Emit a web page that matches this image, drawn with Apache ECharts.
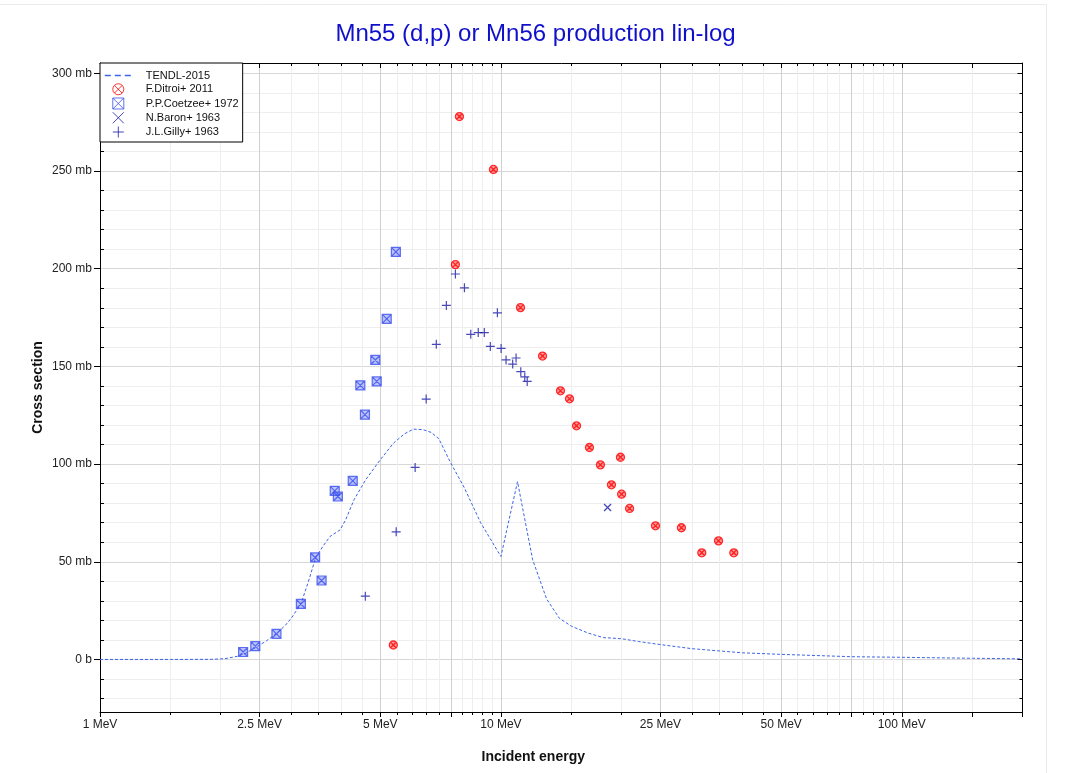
<!DOCTYPE html>
<html>
<head>
<meta charset="utf-8">
<script src="https://cdn.jsdelivr.net/npm/echarts@6/dist/echarts.min.js"></script>
<style>
html,body{margin:0;padding:0;background:#fff;}
#chart{width:1071px;height:773px;}
</style>
</head>
<body>
<div id="chart"></div>
<script>
// ---- data (energies in MeV, cross sections in mb) ----
const tendlEnergy = [1, 1.5, 1.9, 2.05, 2.2, 2.3, 2.45, 2.6, 2.75, 2.9, 3.0, 3.17, 3.3, 3.45, 3.6, 3.75, 3.97, 4.1, 4.3, 4.6, 5.0, 5.4, 5.75, 6.05, 6.4, 6.7, 7.0, 7.5, 8.1, 8.9, 10.0, 11.0, 12.0, 13.0, 14.0, 15.0, 16.5, 18.0, 20.0, 22.0, 25, 30, 40, 50, 75, 100, 150, 200];
const tendlXs     = [0, 0, 0.05, 0.4, 1.6, 3.0, 6.2, 9.5, 13.1, 17.5, 21.1, 28.4, 39, 52, 58, 63, 66.3, 71.5, 81.7, 92, 102.2, 110.8, 115.5, 117.9, 117.6, 116.2, 113, 100.5, 88, 70, 52.7, 91, 51, 31, 21, 17, 13.5, 11.2, 10.6, 9.2, 7.6, 5.5, 3.4, 2.6, 1.4, 1.1, 0.6, 0.3];

const ditroiEnergy = [5.39, 7.88, 9.58, 7.70, 11.19, 12.70, 14.08, 14.83, 15.44, 16.63, 17.71, 19.87, 18.87, 20.0, 20.94, 24.3, 28.2, 31.7, 34.9, 38.1];
const ditroiXs     = [7.4, 277.9, 250.8, 202.1, 180.1, 155.3, 137.5, 133.4, 119.6, 108.5, 99.6, 103.5, 89.4, 84.6, 77.3, 68.4, 67.4, 54.6, 60.7, 54.6];

const coetzeeEnergy = [2.275, 2.44, 2.755, 3.17, 3.44, 3.57, 3.85, 3.92, 4.27, 4.46, 4.58, 4.86, 4.90, 5.19, 5.47];
const coetzeeXs     = [3.8, 6.8, 13.1, 28.4, 52.2, 40.4, 86.3, 83.4, 91.4, 140.3, 125.3, 153.3, 142.3, 174.3, 208.6];

const baronEnergy = [18.45];
const baronXs     = [77.8];

const gillyEnergy = [4.59, 5.48, 6.11, 6.51, 6.90, 7.31, 7.70, 8.11, 8.41, 8.78, 9.09, 9.41, 9.80, 10.01, 10.30, 10.70, 10.91, 11.21, 11.47, 11.63];
const gillyXs     = [32.4, 65.3, 98.3, 133.3, 161.3, 181.2, 197.3, 190.2, 166.4, 167.3, 167.3, 160.2, 177.4, 159.2, 153.3, 151.2, 154.3, 147.3, 144.6, 142.3];

const seriesNames = ['TENDL-2015', 'F.Ditroi+ 2011', 'P.P.Coetzee+ 1972', 'N.Baron+ 1963', 'J.L.Gilly+ 1963'];

// ---- axis ticks ----
const xLabelValues = [1, 2.5, 5, 10, 25, 50, 100];
const xMajorTicks  = [1, 2.5, 5, 7.5, 10, 25, 50, 75, 100, 150, 200];
const xMinorTicks  = [1.5, 2, 3, 3.5, 4, 4.5, 5.5, 6, 6.5, 7, 8, 8.5, 9, 9.5, 15, 20, 30, 35, 40, 45, 55, 60, 65, 70, 80, 85, 90, 95, 150];
const yLabelValues = [0, 50, 100, 150, 200, 250, 300];
const yMinorTicks  = [-20, -10, 10, 20, 30, 40, 60, 70, 80, 90, 110, 120, 130, 140, 160, 170, 180, 190, 210, 220, 230, 240, 260, 270, 280, 290];

const X_MIN = 1, X_MAX = 200, Y_MIN = -26.9, Y_MAX = 305.3;
const FONT = '"Liberation Sans", Arial, Helvetica, sans-serif';

function pairs(xs, ys) { return xs.map((x, i) => [x, ys[i]]); }

const SYM_CIRCLE_X = 'path://M0,5 A5,5 0 1 1 10,5 A5,5 0 1 1 0,5 Z M1.6,1.6 L8.4,8.4 M8.4,1.6 L1.6,8.4';
const SYM_SQUARE_X = 'path://M0,0 L10,0 L10,10 L0,10 Z M0,0 L10,10 M10,0 L0,10';
const SYM_X = 'path://M0,0 L10,10 M10,0 L0,10';
const SYM_PLUS = 'path://M5,0 L5,10 M0,5 L10,5';

function xAxisBase(extra) {
  return Object.assign({
    type: 'log', logBase: 10, min: X_MIN, max: X_MAX, gridIndex: 0
  }, extra);
}
function yAxisBase(extra) {
  return Object.assign({
    type: 'value', min: Y_MIN, max: Y_MAX, gridIndex: 0
  }, extra);
}

const chart = echarts.init(document.getElementById('chart'), null, {renderer: 'canvas'});

const option = {
  animation: false,
  backgroundColor: '#ffffff',
  title: {
    text: 'Mn55 (d,p) or Mn56 production lin-log',
    left: 'center',
    top: 17,
    textStyle: {color: '#1010cc', fontSize: 24, fontWeight: 'normal', fontFamily: FONT}
  },
  graphic: [
    {type: 'line', shape: {x1: 0, y1: 4.5, x2: 1046.5, y2: 4.5}, style: {stroke: '#ebebeb', lineWidth: 1}, silent: true},
    {type: 'line', shape: {x1: 1046.5, y1: 4.5, x2: 1046.5, y2: 773}, style: {stroke: '#ebebeb', lineWidth: 1}, silent: true}
  ],
  grid: {left: 100, top: 63, right: 48.5, bottom: 61, containLabel: false},
  legend: {
    orient: 'vertical',
    left: 100,
    top: 63,
    padding: [7, 4, 4, 4],
    itemWidth: 27,
    itemHeight: 11,
    itemGap: 2.25,
    backgroundColor: '#ffffff',
    borderColor: '#000000',
    borderWidth: 1,
    borderRadius: 0,
    selectedMode: false,
    z: 20,
    data: [
      {name: seriesNames[0], itemStyle: {color: 'rgba(0,0,0,0)', borderWidth: 0, opacity: 0},
       lineStyle: {width: 1.6, type: [6, 4]}},
      {name: seriesNames[1], itemStyle: {color: 'rgba(0,0,0,0)', borderWidth: 1}},
      {name: seriesNames[2], itemStyle: {color: 'rgba(0,0,0,0)', borderWidth: 1}},
      {name: seriesNames[3], itemStyle: {borderWidth: 1}},
      {name: seriesNames[4], itemStyle: {borderWidth: 1}}
    ],
    textStyle: {fontSize: 11, color: '#111', fontFamily: FONT, padding: [0, 0, 0, 9]}
  },
  xAxis: [
    xAxisBase({
      position: 'bottom',
      name: 'Incident energy',
      nameLocation: 'middle',
      nameGap: 38,
      nameTextStyle: {fontSize: 14, fontWeight: 'bold', color: '#111', fontFamily: FONT, padding: [0, 56, 0, 0]},
      axisLine: {show: true, onZero: false, lineStyle: {color: '#000', width: 1}},
      axisTick: {show: true, inside: false, length: 5, customValues: xMajorTicks, lineStyle: {color: '#000'}},
      axisLabel: {show: true, customValues: xLabelValues, margin: 7, fontSize: 12, color: '#222', fontFamily: FONT,
                  formatter: v => v + ' MeV'},
      splitLine: {show: true, lineStyle: {color: '#d0d0d0', width: 1}},
      minorTick: {show: false}, minorSplitLine: {show: false}
    }),
    xAxisBase({
      position: 'top',
      axisLine: {show: true, onZero: false, lineStyle: {color: '#000', width: 1}},
      axisTick: {show: true, inside: true, length: 5, customValues: xMajorTicks, lineStyle: {color: '#000'}},
      axisLabel: {show: false},
      splitLine: {show: false}
    }),
    xAxisBase({
      position: 'bottom',
      axisLine: {show: false, onZero: false},
      axisTick: {show: true, inside: false, length: 3, customValues: xMinorTicks, lineStyle: {color: '#000'}},
      axisLabel: {show: false},
      splitLine: {show: true, lineStyle: {color: '#eeeeee', width: 1}}
    }),
    xAxisBase({
      position: 'top',
      axisLine: {show: false, onZero: false},
      axisTick: {show: true, inside: true, length: 3, customValues: xMinorTicks, lineStyle: {color: '#000'}},
      axisLabel: {show: false},
      splitLine: {show: false}
    })
  ],
  yAxis: [
    yAxisBase({
      position: 'left',
      name: 'Cross section',
      nameLocation: 'middle',
      nameGap: 55,
      nameMoveOverlap: false,
      nameTextStyle: {fontSize: 14, fontWeight: 'bold', color: '#111', fontFamily: FONT},
      axisLine: {show: true, onZero: false, lineStyle: {color: '#000', width: 1}},
      axisTick: {show: true, inside: false, length: 6, customValues: yLabelValues, lineStyle: {color: '#000'}},
      axisLabel: {show: true, customValues: yLabelValues, margin: 8, fontSize: 12, color: '#222', fontFamily: FONT,
                  formatter: v => (v === 0 ? '0 b' : v + ' mb')},
      splitLine: {show: true, lineStyle: {color: '#d8d8d8', width: 1}}
    }),
    yAxisBase({
      position: 'right',
      axisLine: {show: true, onZero: false, lineStyle: {color: '#000', width: 1}},
      axisTick: {show: true, inside: true, length: 5, customValues: yLabelValues, lineStyle: {color: '#000'}},
      axisLabel: {show: false},
      splitLine: {show: false}
    }),
    yAxisBase({
      position: 'left',
      axisLine: {show: false, onZero: false},
      axisTick: {show: true, inside: true, length: 4, customValues: yMinorTicks, lineStyle: {color: '#000'}},
      axisLabel: {show: false},
      splitLine: {show: true, lineStyle: {color: '#eeeeee', width: 1}}
    }),
    yAxisBase({
      position: 'right',
      axisLine: {show: false, onZero: false},
      axisTick: {show: true, inside: true, length: 3, customValues: yMinorTicks, lineStyle: {color: '#000'}},
      axisLabel: {show: false},
      splitLine: {show: false}
    })
  ],
  series: [
    {
      name: seriesNames[0], type: 'line', xAxisIndex: 0, yAxisIndex: 0,
      data: pairs(tendlEnergy, tendlXs),
      symbol: 'none', showSymbol: false, smooth: false, silent: true, z: 2,
      lineStyle: {color: '#3d64e6', width: 1, type: [3, 2]},
      itemStyle: {color: '#3d64e6'}
    },
    {
      name: seriesNames[1], type: 'scatter', xAxisIndex: 0, yAxisIndex: 0,
      data: pairs(ditroiEnergy, ditroiXs),
      symbol: SYM_CIRCLE_X, symbolSize: 8, z: 5,
      itemStyle: {color: 'rgba(255,30,30,0.55)', borderColor: '#ff0000', borderWidth: 1.3}
    },
    {
      name: seriesNames[2], type: 'scatter', xAxisIndex: 0, yAxisIndex: 0,
      data: pairs(coetzeeEnergy, coetzeeXs),
      symbol: SYM_SQUARE_X, symbolSize: 9, z: 4,
      itemStyle: {color: 'rgba(70,90,240,0.45)', borderColor: '#3a4fee', borderWidth: 1.2}
    },
    {
      name: seriesNames[3], type: 'scatter', xAxisIndex: 0, yAxisIndex: 0,
      data: pairs(baronEnergy, baronXs),
      symbol: SYM_X, symbolSize: 7, z: 4,
      itemStyle: {color: 'rgba(0,0,0,0)', borderColor: '#1a1aa8', borderWidth: 1.3}
    },
    {
      name: seriesNames[4], type: 'scatter', xAxisIndex: 0, yAxisIndex: 0,
      data: pairs(gillyEnergy, gillyXs),
      symbol: SYM_PLUS, symbolSize: 9, z: 4,
      itemStyle: {color: 'rgba(0,0,0,0)', borderColor: '#1a1aa8', borderWidth: 1.2}
    }
  ]
};

chart.setOption(option);
</script>
</body>
</html>
